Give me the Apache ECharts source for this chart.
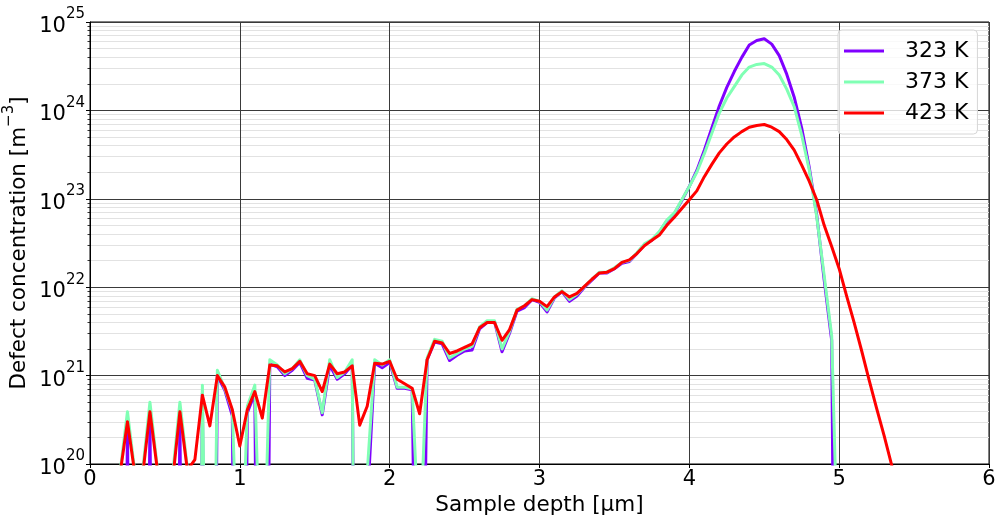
<!DOCTYPE html>
<html>
<head>
<meta charset="utf-8">
<script src="https://cdn.jsdelivr.net/npm/echarts@6/dist/echarts.min.js"></script>
<style>
  html, body { margin: 0; padding: 0; background: #ffffff; }
  #chart { width: 995px; height: 515px; }
</style>
</head>
<body>
<div id="chart"></div>
<script>
// Depth grid of the simulated profile, in micrometres
const depths = [
  0.20, 0.25, 0.30, 0.35, 0.40, 0.45, 0.50, 0.55, 0.60, 0.65,
  0.70, 0.75, 0.80, 0.85, 0.90, 0.95, 1.00, 1.05, 1.10, 1.15,
  1.20, 1.25, 1.30, 1.35, 1.40, 1.45, 1.50, 1.55, 1.60, 1.65,
  1.70, 1.75, 1.80, 1.85, 1.90, 1.95, 2.00, 2.05, 2.10, 2.15,
  2.20, 2.25, 2.30, 2.35, 2.40, 2.45, 2.50, 2.55, 2.60, 2.65,
  2.70, 2.75, 2.80, 2.85, 2.90, 2.95, 3.00, 3.05, 3.10, 3.15,
  3.20, 3.25, 3.30, 3.35, 3.40, 3.45, 3.50, 3.55, 3.60, 3.65,
  3.70, 3.75, 3.80, 3.85, 3.90, 3.95, 4.00, 4.05, 4.10, 4.15,
  4.20, 4.25, 4.30, 4.35, 4.40, 4.45, 4.50, 4.55, 4.60, 4.65,
  4.70, 4.75, 4.80, 4.85, 4.90, 4.95, 5.00, 5.05, 5.10, 5.15,
  5.20, 5.25, 5.30, 5.35, 5.40
];

// Defect concentration [m^-3] at 323 K
const conc323 = [
  1e10, 2.8e20, 1e10, 1e10, 3.5e20, 1e10, 1e10, 1e10, 3.5e20, 1e10,
  1e10, 6.3e20, 1e10, 1.0e21, 6.8e20, 3.5e20, 1e10, 3.8e20, 6.3e20, 1e10,
  1.35e21, 1.26e21, 1.0e21, 1.15e21, 1.41e21, 9.3e20, 8.9e20, 3.6e20, 1.32e21, 9.1e20,
  1.05e21, 1.32e21, 1e10, 3.2e19, 1.38e21, 1.23e21, 1.41e21, 7.2e20, 7.2e20, 6.9e20,
  1e15, 1.51e21, 2.4e21, 2.29e21, 1.48e21, 1.7e21, 1.9e21, 1.95e21, 3.39e21, 3.98e21,
  4.07e21, 1.86e21, 3.02e21, 5.37e21, 5.89e21, 7.24e21, 6.76e21, 5.25e21, 7.59e21, 8.91e21,
  6.92e21, 7.94e21, 1.0e22, 1.2e22, 1.45e22, 1.45e22, 1.62e22, 1.86e22, 1.95e22, 2.4e22,
  3.02e22, 3.39e22, 4.17e22, 5.62e22, 6.76e22, 9.55e22, 1.38e23, 2.09e23, 3.55e23, 6.31e23,
  1.12e24, 1.82e24, 2.75e24, 3.98e24, 5.5e24, 6.17e24, 6.46e24, 5.62e24, 4.17e24, 2.57e24,
  1.41e24, 6.31e23, 2.29e23, 6.61e22, 1.2e22, 2.51e21, 1e11, null, null, null,
  null, null, null, null, null
];

// Defect concentration [m^-3] at 373 K
const conc373 = [
  7.9e19, 3.9e20, 7.9e19, 7.9e19, 5.0e20, 8.9e19, 3.0e19, 7.1e19, 5.0e20, 8.9e19,
  1e10, 7.8e20, 1e15, 1.15e21, 7.1e20, 4.0e20, 1e18, 4.5e20, 7.8e20, 1e18,
  1.51e21, 1.32e21, 1.05e21, 1.2e21, 1.51e21, 1.0e21, 9.1e20, 3.8e20, 1.51e21, 9.5e20,
  1.1e21, 1.51e21, 1e10, 7.9e19, 1.51e21, 1.32e21, 1.51e21, 7.4e20, 7.4e20, 7.1e20,
  1.0e19, 1.58e21, 2.57e21, 2.45e21, 1.58e21, 1.78e21, 2.0e21, 2.14e21, 3.55e21, 4.17e21,
  4.17e21, 2.0e21, 3.16e21, 5.62e21, 6.17e21, 7.41e21, 6.92e21, 5.5e21, 7.76e21, 9.12e21,
  7.24e21, 8.32e21, 1.02e22, 1.23e22, 1.48e22, 1.48e22, 1.66e22, 1.91e22, 2.0e22, 2.45e22,
  3.09e22, 3.47e22, 4.27e22, 5.75e22, 6.92e22, 9.77e22, 1.38e23, 2.0e23, 3.24e23, 5.5e23,
  9.33e23, 1.38e24, 1.86e24, 2.51e24, 3.09e24, 3.31e24, 3.39e24, 3.09e24, 2.51e24, 1.74e24,
  1.1e24, 5.25e23, 2.14e23, 6.31e22, 1.35e22, 2.82e21, 2.0e18, null, null, null,
  null, null, null, null, null
];

// Defect concentration [m^-3] at 423 K
const conc423 = [
  7.6e19, 3.0e20, 7.6e19, 7.1e19, 3.9e20, 8.5e19, 3.2e19, 6.2e19, 3.9e20, 8.5e19,
  1.12e20, 6.0e20, 2.7e20, 1.0e21, 7.4e20, 4.1e20, 1.6e20, 4.1e20, 6.6e20, 3.3e20,
  1.32e21, 1.29e21, 1.1e21, 1.2e21, 1.45e21, 1.05e21, 1.0e21, 6.6e20, 1.35e21, 1.05e21,
  1.1e21, 1.29e21, 2.75e20, 4.5e20, 1.38e21, 1.35e21, 1.45e21, 9.1e20, 8.1e20, 7.2e20,
  3.7e20, 1.51e21, 2.45e21, 2.34e21, 1.78e21, 1.9e21, 2.09e21, 2.29e21, 3.47e21, 3.98e21,
  3.98e21, 2.51e21, 3.31e21, 5.5e21, 6.17e21, 7.24e21, 6.92e21, 6.03e21, 7.76e21, 8.91e21,
  7.76e21, 8.51e21, 1.02e22, 1.23e22, 1.45e22, 1.48e22, 1.62e22, 1.91e22, 2.04e22, 2.4e22,
  2.95e22, 3.39e22, 3.89e22, 5.01e22, 6.17e22, 7.76e22, 9.77e22, 1.23e23, 1.78e23, 2.45e23,
  3.31e23, 4.17e23, 5.01e23, 5.75e23, 6.46e23, 6.76e23, 6.92e23, 6.46e23, 5.75e23, 4.68e23,
  3.55e23, 2.4e23, 1.58e23, 9.77e22, 5.01e22, 2.88e22, 1.62e22, 7.94e21, 3.98e21, 1.91e21,
  8.91e20, 4.27e20, 2.09e20, 9.77e19, 4.68e19
];

const seriesNames = ['323 K', '373 K', '423 K'];
const seriesColors = ['#8000ff', '#80ffb4', '#ff0000'];
const seriesValues = [conc323, conc373, conc423];

// Axis ranges and tick layout
const xTicks = [0, 1, 2, 3, 4, 5, 6];
const yDecades = [20, 21, 22, 23, 24, 25];
const minorMultipliers = [2, 3, 4, 5, 6, 7, 8, 9];

// minor positions at 2..9 x 10^n, as on a log axis
const minorValues = [];
for (let i = 0; i < yDecades.length - 1; i++) {
  for (const m of minorMultipliers) {
    minorValues.push(m * Math.pow(10, yDecades[i]));
  }
}
const minorGrid = minorValues.map(v => ({ yAxis: v }));

const FONT = 'DejaVu Sans';
const chart = echarts.init(document.getElementById('chart'), null, { renderer: 'canvas' });

const lineSeries = seriesNames.map((name, k) => ({
  name: name,
  type: 'line',
  data: depths.map((d, i) => [d, seriesValues[k][i]]),
  yAxisIndex: 0,
  showSymbol: false,
  symbol: 'none',
  connectNulls: false,
  clip: true,
  z: 3 + k,
  lineStyle: { color: seriesColors[k], width: 3, join: 'round' },
  itemStyle: { color: seriesColors[k] },
  emphasis: { disabled: true }
}));

const option = {
  animation: false,
  backgroundColor: '#ffffff',
  textStyle: { fontFamily: FONT },
  grid: {
    left: 90, right: 6, top: 22, bottom: 51,
    containLabel: false,
    outerBoundsMode: 'none',
    show: true, borderColor: '#000000', borderWidth: 1, backgroundColor: 'transparent'
  },
  legend: {
    z: 10,
    orient: 'vertical',
    left: 838, top: 30,
    padding: [10, 9, 10, 6],
    itemGap: 9,
    itemWidth: 40, itemHeight: 3,
    icon: 'rect',
    backgroundColor: 'rgba(255,255,255,0.8)',
    borderColor: '#d6d6d6', borderWidth: 1, borderRadius: 4,
    data: seriesNames,
    textStyle: { fontFamily: FONT, fontSize: 22, color: '#000000', padding: [0, 0, 0, 16], lineHeight: 22 }
  },
  xAxis: {
    type: 'value',
    z: 1,
    min: 0, max: 6, interval: 1,
    name: 'Sample depth [μm]',
    nameLocation: 'middle',
    nameGap: 27,
    nameTextStyle: { fontFamily: FONT, fontSize: 21.5, color: '#000000' },
    axisLine: { show: true, lineStyle: { color: '#000000', width: 1 } },
    axisTick: { show: true, inside: false, length: 4, lineStyle: { color: '#000000' } },
    axisLabel: { fontFamily: FONT, fontSize: 21, color: '#000000', margin: 5,
      formatter: v => String(v) },
    splitLine: { show: true, lineStyle: { color: '#3a3a3a', width: 1, type: 'solid' } }
  },
  yAxis: [
    {
      type: 'log',
      z: 1,
      logBase: 10,
      min: 1e20, max: 1e25,
      name: '{t|Defect concentration [m}{s|−3}{t|]}',
      nameLocation: 'middle',
      nameGap: 60,
      nameMoveOverlap: false,
      nameTextStyle: {
        fontFamily: FONT, color: '#000000',
        rich: {
          t: { fontFamily: FONT, fontSize: 21.5, color: '#000000', verticalAlign: 'bottom', lineHeight: 28 },
          s: { fontFamily: FONT, fontSize: 15, color: '#000000', verticalAlign: 'top', lineHeight: 28 }
        }
      },
      axisLine: { show: true, lineStyle: { color: '#000000', width: 1 } },
      axisTick: { show: true, inside: false, length: 4, lineStyle: { color: '#000000' } },
      axisLabel: {
        margin: 5,
        formatter: v => '{b|10}{s|' + Math.round(Math.log10(v)) + '}',
        rich: {
          b: { fontFamily: FONT, fontSize: 21, color: '#000000', verticalAlign: 'bottom', lineHeight: 30 },
          s: { fontFamily: FONT, fontSize: 15, color: '#000000', verticalAlign: 'top', lineHeight: 30 }
        }
      },
      splitLine: { show: true, lineStyle: { color: '#3a3a3a', width: 1, type: 'solid' } }
    },
    {
      // minor ticks of the log axis
      type: 'log',
      z: 1,
      logBase: 10,
      position: 'left',
      min: 1e20, max: 1e25,
      axisLine: { show: false },
      axisLabel: { show: false },
      splitLine: { show: false },
      axisTick: {
        show: true, inside: false, length: 2.5,
        customValues: minorValues,
        lineStyle: { color: '#000000', width: 0.8 }
      }
    }
  ],
  series: [
    {
      name: 'minor-grid',
      type: 'line',
      data: [],
      z: 0,
      silent: true,
      markLine: {
        z: 0,
        silent: true,
        symbol: ['none', 'none'],
        animation: false,
        label: { show: false },
        emphasis: { disabled: true },
        lineStyle: { color: '#e2e2e2', width: 1, type: 'solid' },
        data: minorGrid
      }
    }
  ].concat(lineSeries)
};

chart.setOption(option);
</script>
</body>
</html>
